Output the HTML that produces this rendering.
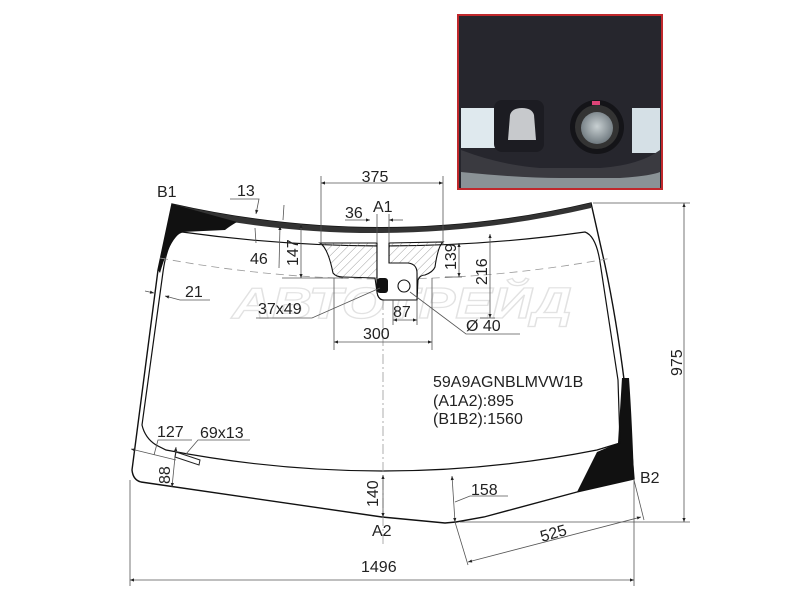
<!DOCTYPE html>
<html><head><meta charset="utf-8"><style>
html,body{margin:0;padding:0;background:#fff;}
svg{display:block;font-family:"Liberation Sans",Arial,sans-serif;}
</style></head><body>
<svg width="800" height="600" viewBox="0 0 800 600" xmlns="http://www.w3.org/2000/svg">
<defs>
<pattern id="h" width="6" height="6" patternUnits="userSpaceOnUse" patternTransform="rotate(45)">
<line x1="0" y1="0" x2="0" y2="6" stroke="#888" stroke-width="0.8"/></pattern>
<marker id="a" viewBox="0 0 10 10" refX="10" refY="5" markerWidth="7" markerHeight="5" orient="auto-start-reverse"><path d="M0,1 L10,5 L0,9z" fill="#222"/></marker>
<radialGradient id="lens" cx="50%" cy="45%" r="55%"><stop offset="0" stop-color="#c8d0d2"/><stop offset="1" stop-color="#707a80"/></radialGradient>
</defs>

<!-- photo -->
<rect x="458" y="15" width="204" height="174" fill="#26262d" stroke="#c0282c" stroke-width="2"/>
<rect x="461" y="108" width="36" height="40" fill="#dfe9ee"/>
<rect x="632" y="108" width="28" height="45" fill="#d5e0e6"/>
<path d="M461,150 Q500,165 540,168 L600,168 Q640,165 660,150 L660,188 L461,188z" fill="#3a3a40"/>
<path d="M461,172 Q520,178 560,178 L620,178 Q650,176 660,172 L660,188 L461,188z" fill="#8a9296"/>
<rect x="494" y="100" width="50" height="52" rx="8" fill="#1c1c22"/>
<path d="M510,115 Q512,108 522,108 Q532,108 534,115 L536,140 L508,140z" fill="#c7c9cc"/>
<circle cx="597" cy="127" r="27" fill="#141418"/>
<circle cx="597" cy="127" r="22" fill="#333"/>
<circle cx="597" cy="128" r="16" fill="url(#lens)"/>
<rect x="592" y="101" width="8" height="4" fill="#d47"/>

<!-- watermark -->
<text x="232" y="318" textLength="340" lengthAdjust="spacingAndGlyphs" font-size="44" font-style="italic" font-weight="bold" fill="none" stroke="#e2e2e2" stroke-width="1.2">АВТОТРЕЙД</text>

<!-- glass outer -->
<path d="M172,204 Q384,252 591,203 L605,265 Q625,360 634,479 L577,492 L484,517 L456,522 L445,523 L382,517 L141,482 Q133,480 132,470 L158,270 Z" fill="none" stroke="#111" stroke-width="1.4"/>
<path d="M172,204 Q384,252 591,203 L591,208 Q384,256 178,212 Z" fill="#333"/>
<path d="M172,204 L237,222 Q230,226 225,230 L182,232 Q170,238 160,273 L158,270 Z" fill="#111"/>
<path d="M622,378 L629,378 Q632,420 634,479 L577,492 L597,452 L618,443 Z" fill="#111"/>
<path d="M182,232 Q384,260 585,232 Q596,236 600,262 L618,380 L620,443 L597,450 Q384,492 166,450 L156,445 Q145,438 142,425 L163,272 Q168,236 182,232" fill="none" stroke="#111" stroke-width="1.2"/>
<path d="M160,258 Q384,300 612,258" fill="none" stroke="#999" stroke-width="0.8" stroke-dasharray="8,5"/>
<line x1="383" y1="300" x2="383" y2="545" stroke="#999" stroke-width="0.8" stroke-dasharray="10,3,2,3"/>

<!-- sensor -->
<path d="M320,243 Q328,248 333,273 Q336,277 343,277 L375,278 L377,292 Q378,300 384,300 L417,300 L418,280 Q420,275 425,275 Q433,272 435,267 Q438,246 443,242 L389,243 L389,263 L408,263 Q417,265 417,273 L417,300 L384,300 Q378,298 377,292 L377,243 Z" fill="url(#h)" stroke="#111" stroke-width="1.1"/>
<path d="M377,243 L377,292 Q378,300 384,300 L417,300 L417,273 Q417,264 408,263 L389,263 L389,243" fill="#fff" stroke="#111" stroke-width="1.1"/>
<rect x="377" y="278" width="11" height="15" rx="3" fill="#111"/>
<circle cx="404" cy="286" r="6" fill="none" stroke="#111" stroke-width="1.1"/>

<g stroke="#555" stroke-width="0.8" fill="none">
<line x1="321" y1="176" x2="321" y2="245"/><line x1="443" y1="176" x2="443" y2="245"/>
<line x1="321" y1="183" x2="443" y2="183" marker-start="url(#a)" marker-end="url(#a)"/>
<line x1="345" y1="220" x2="370" y2="220" marker-end="url(#a)"/><line x1="403" y1="220" x2="389" y2="220" marker-end="url(#a)"/>
<line x1="377" y1="214" x2="377" y2="243"/><line x1="389" y1="214" x2="389" y2="243"/>
<line x1="334" y1="278" x2="334" y2="350"/><line x1="432" y1="278" x2="432" y2="350"/>
<line x1="334" y1="342" x2="432" y2="342" marker-start="url(#a)" marker-end="url(#a)"/>
<line x1="393" y1="300" x2="393" y2="325"/><line x1="417" y1="300" x2="417" y2="325"/>
<line x1="393" y1="320" x2="417" y2="320" marker-start="url(#a)" marker-end="url(#a)"/>
<path d="M256,318 L312,318 L380,288"/>
<path d="M410,292 L466,334 L520,334"/>
<line x1="445" y1="277" x2="462" y2="277"/>
<line x1="459" y1="243" x2="459" y2="277" marker-start="url(#a)" marker-end="url(#a)"/>
<line x1="480" y1="318" x2="495" y2="318"/>
<line x1="490" y1="234" x2="490" y2="318" marker-start="url(#a)" marker-end="url(#a)"/>
<line x1="282" y1="278" x2="343" y2="278"/>
<line x1="301" y1="224" x2="301" y2="278" marker-start="url(#a)" marker-end="url(#a)"/>
<line x1="279" y1="268" x2="280" y2="226" marker-end="url(#a)"/>
<line x1="256" y1="243" x2="255" y2="228"/>
<path d="M230,199 L259,199 L256,214" marker-end="url(#a)"/>
<line x1="284" y1="205" x2="283" y2="220"/>
<line x1="145" y1="291" x2="154" y2="293" marker-end="url(#a)"/>
<path d="M210,300 L180,300 L165,296" marker-end="url(#a)"/>
<line x1="593" y1="203" x2="690" y2="203"/><line x1="460" y1="522" x2="690" y2="522"/>
<line x1="684" y1="203" x2="684" y2="522" marker-start="url(#a)" marker-end="url(#a)"/>
<line x1="130" y1="480" x2="130" y2="586"/><line x1="634" y1="480" x2="634" y2="586"/>
<line x1="130" y1="580" x2="634" y2="580" marker-start="url(#a)" marker-end="url(#a)"/>
<line x1="455" y1="522" x2="468" y2="565"/><line x1="634" y1="480" x2="644" y2="520"/>
<line x1="468" y1="562" x2="641" y2="517" marker-start="url(#a)" marker-end="url(#a)"/>
<line x1="383" y1="475" x2="383" y2="517" marker-start="url(#a)" marker-end="url(#a)"/>
<line x1="452" y1="476" x2="455" y2="522" marker-start="url(#a)" marker-end="url(#a)"/>
<path d="M455,502 L470,496 L508,496"/>
<line x1="176" y1="447" x2="172" y2="487" marker-start="url(#a)" marker-end="url(#a)"/>
<path d="M192,440 L158,440 L154,455"/>
<line x1="131" y1="449" x2="176" y2="460" marker-start="url(#a)"/>
<path d="M186,454 L198,440 L250,440"/>
</g>
<polygon points="176,452 200,460 199,465 175,457" fill="none" stroke="#222" stroke-width="1"/>

<g font-size="16" fill="#222">
<text x="375" y="182" text-anchor="middle">375</text>
<text x="157" y="197">B1</text>
<text x="237" y="196">13</text>
<text x="345" y="218">36</text>
<text x="373" y="212">A1</text>
<text x="250" y="264">46</text>
<text x="185" y="297">21</text>
<text x="258" y="314">37x49</text>
<text x="393" y="317">87</text>
<text x="363" y="339">300</text>
<text x="466" y="331">Ø 40</text>
<text transform="translate(298,266) rotate(-90)">147</text>
<text transform="translate(456,270) rotate(-90)">139</text>
<text transform="translate(487,285) rotate(-90)">216</text>
<text transform="translate(682,376) rotate(-90)">975</text>
<text x="433" y="387">59A9AGNBLMVW1B</text>
<text x="433" y="406">(A1A2):895</text>
<text x="433" y="424">(B1B2):1560</text>
<text x="157" y="437">127</text>
<text x="200" y="438">69x13</text>
<text transform="translate(170,484) rotate(-90)">88</text>
<text transform="translate(378,507) rotate(-90)">140</text>
<text x="471" y="495">158</text>
<text x="372" y="536">A2</text>
<text x="640" y="483">B2</text>
<text transform="translate(542,542) rotate(-16)">525</text>
<text x="361" y="572">1496</text>
</g>
</svg>
</body></html>
